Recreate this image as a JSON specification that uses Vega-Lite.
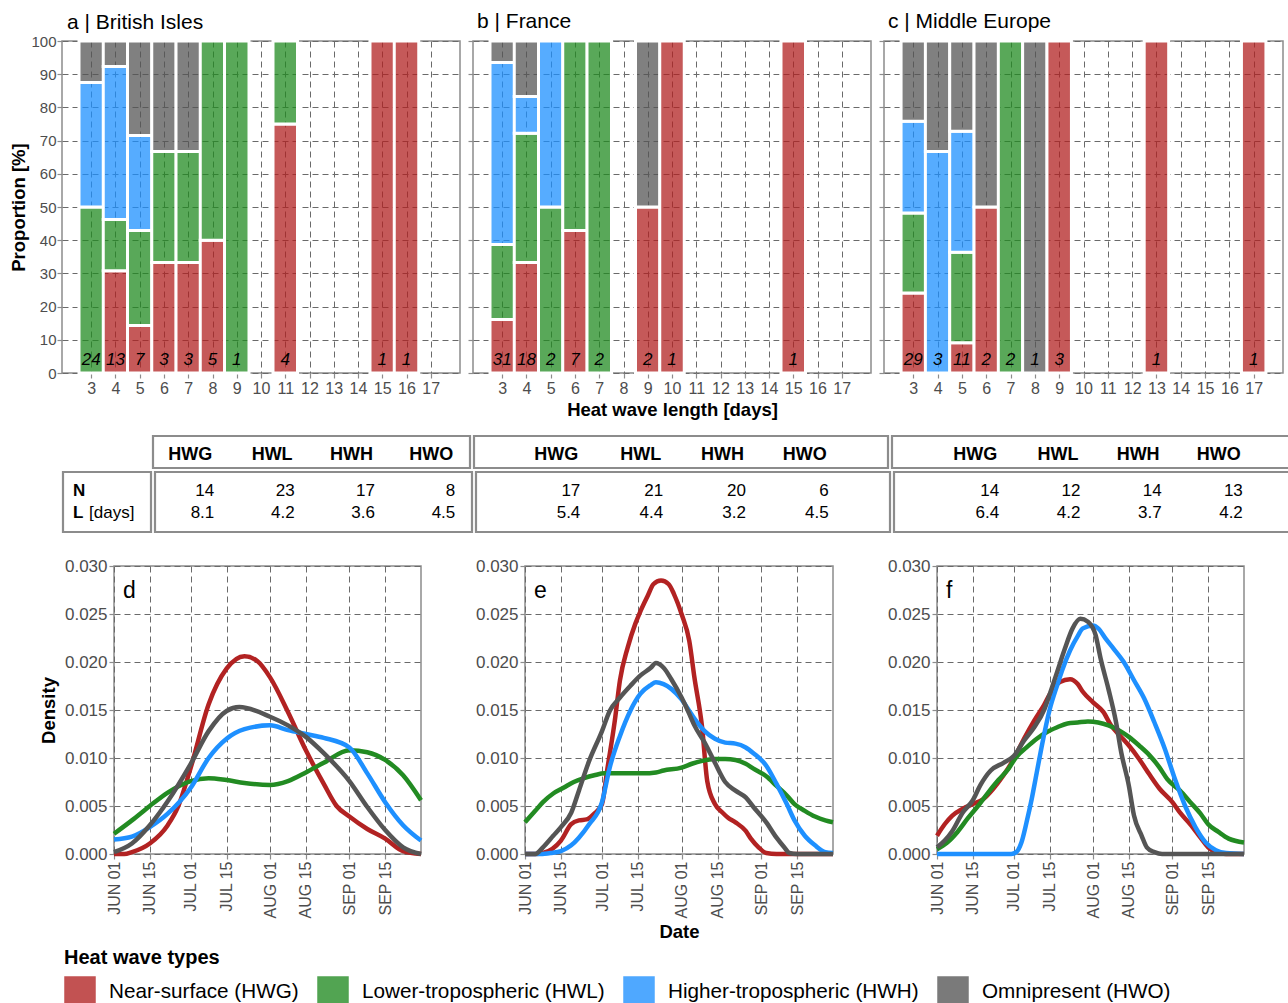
{
"$schema": "https://vega.github.io/schema/vega-lite/v6.json",
"padding": {"left": 8, "top": 9, "right": 0, "bottom": 0},
"background": "white",
"config": {
  "font": "Liberation Sans",
  "view": {"stroke": "#8c8c8c", "strokeWidth": 1.5},
  "axis": {"gridDash": [6, 4], "gridColor": "#6a6a6a", "gridWidth": 1, "domain": false, "tickColor": "#8c8c8c", "tickSize": 5, "tickWidth": 1.2, "labelColor": "#4d4d4d", "titleColor": "black", "titleFontWeight": "bold", "titleFontSize": 18.5, "labelPadding": 2, "labelOverlap": false, "tickCount": 40},
  "title": {"fontWeight": "normal", "color": "black"},
  "text": {"color": "black"},
  "legend": {"labelLimit": 500}
},
"datasets": {
  "bars": [
    {"r":"a","len":3,"type":"HWL","pct":50,"k":2},{"r":"a","len":3,"type":"HWH","pct":37.5,"k":3},{"r":"a","len":3,"type":"HWO","pct":12.5,"k":4},
    {"r":"a","len":4,"type":"HWG","pct":30.8,"k":1},{"r":"a","len":4,"type":"HWL","pct":15.4,"k":2},{"r":"a","len":4,"type":"HWH","pct":46.1,"k":3},{"r":"a","len":4,"type":"HWO","pct":7.7,"k":4},
    {"r":"a","len":5,"type":"HWG","pct":14.3,"k":1},{"r":"a","len":5,"type":"HWL","pct":28.6,"k":2},{"r":"a","len":5,"type":"HWH","pct":28.6,"k":3},{"r":"a","len":5,"type":"HWO","pct":28.5,"k":4},
    {"r":"a","len":6,"type":"HWG","pct":33.3,"k":1},{"r":"a","len":6,"type":"HWL","pct":33.4,"k":2},{"r":"a","len":6,"type":"HWO","pct":33.3,"k":4},
    {"r":"a","len":7,"type":"HWG","pct":33.3,"k":1},{"r":"a","len":7,"type":"HWL","pct":33.4,"k":2},{"r":"a","len":7,"type":"HWO","pct":33.3,"k":4},
    {"r":"a","len":8,"type":"HWG","pct":40,"k":1},{"r":"a","len":8,"type":"HWL","pct":60,"k":2},
    {"r":"a","len":9,"type":"HWL","pct":100,"k":2},
    {"r":"a","len":11,"type":"HWG","pct":75,"k":1},{"r":"a","len":11,"type":"HWL","pct":25,"k":2},
    {"r":"a","len":15,"type":"HWG","pct":100,"k":1},
    {"r":"a","len":16,"type":"HWG","pct":100,"k":1},
    {"r":"b","len":3,"type":"HWG","pct":16.1,"k":1},{"r":"b","len":3,"type":"HWL","pct":22.6,"k":2},{"r":"b","len":3,"type":"HWH","pct":54.8,"k":3},{"r":"b","len":3,"type":"HWO","pct":6.5,"k":4},
    {"r":"b","len":4,"type":"HWG","pct":33.3,"k":1},{"r":"b","len":4,"type":"HWL","pct":38.9,"k":2},{"r":"b","len":4,"type":"HWH","pct":11.1,"k":3},{"r":"b","len":4,"type":"HWO","pct":16.7,"k":4},
    {"r":"b","len":5,"type":"HWL","pct":50,"k":2},{"r":"b","len":5,"type":"HWH","pct":50,"k":3},
    {"r":"b","len":6,"type":"HWG","pct":42.9,"k":1},{"r":"b","len":6,"type":"HWL","pct":57.1,"k":2},
    {"r":"b","len":7,"type":"HWL","pct":100,"k":2},
    {"r":"b","len":9,"type":"HWG","pct":50,"k":1},{"r":"b","len":9,"type":"HWO","pct":50,"k":4},
    {"r":"b","len":10,"type":"HWG","pct":100,"k":1},
    {"r":"b","len":15,"type":"HWG","pct":100,"k":1},
    {"r":"c","len":3,"type":"HWG","pct":24.1,"k":1},{"r":"c","len":3,"type":"HWL","pct":24.1,"k":2},{"r":"c","len":3,"type":"HWH","pct":27.6,"k":3},{"r":"c","len":3,"type":"HWO","pct":24.2,"k":4},
    {"r":"c","len":4,"type":"HWH","pct":66.7,"k":3},{"r":"c","len":4,"type":"HWO","pct":33.3,"k":4},
    {"r":"c","len":5,"type":"HWG","pct":9.1,"k":1},{"r":"c","len":5,"type":"HWL","pct":27.3,"k":2},{"r":"c","len":5,"type":"HWH","pct":36.4,"k":3},{"r":"c","len":5,"type":"HWO","pct":27.2,"k":4},
    {"r":"c","len":6,"type":"HWG","pct":50,"k":1},{"r":"c","len":6,"type":"HWO","pct":50,"k":4},
    {"r":"c","len":7,"type":"HWL","pct":100,"k":2},
    {"r":"c","len":8,"type":"HWO","pct":100,"k":4},
    {"r":"c","len":9,"type":"HWG","pct":100,"k":1},
    {"r":"c","len":13,"type":"HWG","pct":100,"k":1},
    {"r":"c","len":17,"type":"HWG","pct":100,"k":1}
  ],
  "counts": [
    {"r":"a","len":3,"n":24},{"r":"a","len":4,"n":13},{"r":"a","len":5,"n":7},{"r":"a","len":6,"n":3},{"r":"a","len":7,"n":3},{"r":"a","len":8,"n":5},{"r":"a","len":9,"n":1},{"r":"a","len":11,"n":4},{"r":"a","len":15,"n":1},{"r":"a","len":16,"n":1},
    {"r":"b","len":3,"n":31},{"r":"b","len":4,"n":18},{"r":"b","len":5,"n":2},{"r":"b","len":6,"n":7},{"r":"b","len":7,"n":2},{"r":"b","len":9,"n":2},{"r":"b","len":10,"n":1},{"r":"b","len":15,"n":1},
    {"r":"c","len":3,"n":29},{"r":"c","len":4,"n":3},{"r":"c","len":5,"n":11},{"r":"c","len":6,"n":2},{"r":"c","len":7,"n":2},{"r":"c","len":8,"n":1},{"r":"c","len":9,"n":3},{"r":"c","len":13,"n":1},{"r":"c","len":17,"n":1}
  ],
  "table": [
    {"r":"a","type":"HWG","stat":"N","v":"14"},{"r":"a","type":"HWL","stat":"N","v":"23"},{"r":"a","type":"HWH","stat":"N","v":"17"},{"r":"a","type":"HWO","stat":"N","v":"8"},
    {"r":"a","type":"HWG","stat":"L","v":"8.1"},{"r":"a","type":"HWL","stat":"L","v":"4.2"},{"r":"a","type":"HWH","stat":"L","v":"3.6"},{"r":"a","type":"HWO","stat":"L","v":"4.5"},
    {"r":"b","type":"HWG","stat":"N","v":"17"},{"r":"b","type":"HWL","stat":"N","v":"21"},{"r":"b","type":"HWH","stat":"N","v":"20"},{"r":"b","type":"HWO","stat":"N","v":"6"},
    {"r":"b","type":"HWG","stat":"L","v":"5.4"},{"r":"b","type":"HWL","stat":"L","v":"4.4"},{"r":"b","type":"HWH","stat":"L","v":"3.2"},{"r":"b","type":"HWO","stat":"L","v":"4.5"},
    {"r":"c","type":"HWG","stat":"N","v":"14"},{"r":"c","type":"HWL","stat":"N","v":"12"},{"r":"c","type":"HWH","stat":"N","v":"14"},{"r":"c","type":"HWO","stat":"N","v":"13"},
    {"r":"c","type":"HWG","stat":"L","v":"6.4"},{"r":"c","type":"HWL","stat":"L","v":"4.2"},{"r":"c","type":"HWH","stat":"L","v":"3.7"},{"r":"c","type":"HWO","stat":"L","v":"4.2"}
  ],
  "rowlabels": [{"stat":"N","lab":"N","unit":""},{"stat":"L","lab":"L","unit":"[days]"}],
  "dens": [
    {"r":"a","t":"HWG","date":"2001-06-01","d":0},{"r":"a","t":"HWG","date":"2001-06-05","d":0},{"r":"a","t":"HWG","date":"2001-06-08","d":0.0002},{"r":"a","t":"HWG","date":"2001-06-15","d":0.0011},{"r":"a","t":"HWG","date":"2001-06-22","d":0.003},{"r":"a","t":"HWG","date":"2001-06-26","d":0.0049},{"r":"a","t":"HWG","date":"2001-07-01","d":0.009},{"r":"a","t":"HWG","date":"2001-07-08","d":0.0156},{"r":"a","t":"HWG","date":"2001-07-15","d":0.0193},{"r":"a","t":"HWG","date":"2001-07-22","d":0.0206},{"r":"a","t":"HWG","date":"2001-07-27","d":0.0201},{"r":"a","t":"HWG","date":"2001-08-01","d":0.0184},{"r":"a","t":"HWG","date":"2001-08-08","d":0.0148},{"r":"a","t":"HWG","date":"2001-08-15","d":0.0108},{"r":"a","t":"HWG","date":"2001-08-22","d":0.0073},{"r":"a","t":"HWG","date":"2001-08-27","d":0.005},{"r":"a","t":"HWG","date":"2001-09-01","d":0.0039},{"r":"a","t":"HWG","date":"2001-09-08","d":0.0026},{"r":"a","t":"HWG","date":"2001-09-15","d":0.0016},{"r":"a","t":"HWG","date":"2001-09-22","d":0.0003},{"r":"a","t":"HWG","date":"2001-09-29","d":0},
    {"r":"a","t":"HWL","date":"2001-06-01","d":0.0021},{"r":"a","t":"HWL","date":"2001-06-08","d":0.0035},{"r":"a","t":"HWL","date":"2001-06-15","d":0.005},{"r":"a","t":"HWL","date":"2001-06-22","d":0.0064},{"r":"a","t":"HWL","date":"2001-07-01","d":0.0076},{"r":"a","t":"HWL","date":"2001-07-08","d":0.0079},{"r":"a","t":"HWL","date":"2001-07-15","d":0.0077},{"r":"a","t":"HWL","date":"2001-07-22","d":0.0074},{"r":"a","t":"HWL","date":"2001-08-01","d":0.0072},{"r":"a","t":"HWL","date":"2001-08-08","d":0.0076},{"r":"a","t":"HWL","date":"2001-08-15","d":0.0085},{"r":"a","t":"HWL","date":"2001-08-22","d":0.0095},{"r":"a","t":"HWL","date":"2001-09-01","d":0.0108},{"r":"a","t":"HWL","date":"2001-09-08","d":0.0106},{"r":"a","t":"HWL","date":"2001-09-15","d":0.0098},{"r":"a","t":"HWL","date":"2001-09-22","d":0.0082},{"r":"a","t":"HWL","date":"2001-09-29","d":0.0056},
    {"r":"a","t":"HWH","date":"2001-06-01","d":0.0015},{"r":"a","t":"HWH","date":"2001-06-08","d":0.0018},{"r":"a","t":"HWH","date":"2001-06-15","d":0.0028},{"r":"a","t":"HWH","date":"2001-06-22","d":0.0042},{"r":"a","t":"HWH","date":"2001-07-01","d":0.0069},{"r":"a","t":"HWH","date":"2001-07-08","d":0.01},{"r":"a","t":"HWH","date":"2001-07-15","d":0.012},{"r":"a","t":"HWH","date":"2001-07-22","d":0.013},{"r":"a","t":"HWH","date":"2001-08-01","d":0.0134},{"r":"a","t":"HWH","date":"2001-08-08","d":0.0129},{"r":"a","t":"HWH","date":"2001-08-15","d":0.0125},{"r":"a","t":"HWH","date":"2001-08-22","d":0.0121},{"r":"a","t":"HWH","date":"2001-09-01","d":0.0111},{"r":"a","t":"HWH","date":"2001-09-08","d":0.0084},{"r":"a","t":"HWH","date":"2001-09-15","d":0.0054},{"r":"a","t":"HWH","date":"2001-09-22","d":0.003},{"r":"a","t":"HWH","date":"2001-09-29","d":0.0014},
    {"r":"a","t":"HWO","date":"2001-06-01","d":0.0002},{"r":"a","t":"HWO","date":"2001-06-08","d":0.0011},{"r":"a","t":"HWO","date":"2001-06-15","d":0.003},{"r":"a","t":"HWO","date":"2001-06-22","d":0.0055},{"r":"a","t":"HWO","date":"2001-07-01","d":0.0094},{"r":"a","t":"HWO","date":"2001-07-08","d":0.0128},{"r":"a","t":"HWO","date":"2001-07-15","d":0.0149},{"r":"a","t":"HWO","date":"2001-07-20","d":0.0153},{"r":"a","t":"HWO","date":"2001-08-01","d":0.0143},{"r":"a","t":"HWO","date":"2001-08-08","d":0.0134},{"r":"a","t":"HWO","date":"2001-08-15","d":0.0122},{"r":"a","t":"HWO","date":"2001-08-22","d":0.0105},{"r":"a","t":"HWO","date":"2001-09-01","d":0.0076},{"r":"a","t":"HWO","date":"2001-09-08","d":0.0049},{"r":"a","t":"HWO","date":"2001-09-15","d":0.0025},{"r":"a","t":"HWO","date":"2001-09-22","d":0.0007},{"r":"a","t":"HWO","date":"2001-09-29","d":0},
    {"r":"b","t":"HWG","date":"2001-06-01","d":0},{"r":"b","t":"HWG","date":"2001-06-05","d":0},{"r":"b","t":"HWG","date":"2001-06-08","d":0.0001},{"r":"b","t":"HWG","date":"2001-06-15","d":0.0014},{"r":"b","t":"HWG","date":"2001-06-19","d":0.0031},{"r":"b","t":"HWG","date":"2001-06-22","d":0.0035},{"r":"b","t":"HWG","date":"2001-06-25","d":0.0036},{"r":"b","t":"HWG","date":"2001-06-28","d":0.0042},{"r":"b","t":"HWG","date":"2001-07-01","d":0.0052},{"r":"b","t":"HWG","date":"2001-07-03","d":0.0087},{"r":"b","t":"HWG","date":"2001-07-06","d":0.0139},{"r":"b","t":"HWG","date":"2001-07-08","d":0.0181},{"r":"b","t":"HWG","date":"2001-07-11","d":0.0215},{"r":"b","t":"HWG","date":"2001-07-14","d":0.024},{"r":"b","t":"HWG","date":"2001-07-16","d":0.0253},{"r":"b","t":"HWG","date":"2001-07-19","d":0.027},{"r":"b","t":"HWG","date":"2001-07-21","d":0.0281},{"r":"b","t":"HWG","date":"2001-07-24","d":0.0285},{"r":"b","t":"HWG","date":"2001-07-27","d":0.0281},{"r":"b","t":"HWG","date":"2001-07-29","d":0.0271},{"r":"b","t":"HWG","date":"2001-08-01","d":0.025},{"r":"b","t":"HWG","date":"2001-08-04","d":0.0222},{"r":"b","t":"HWG","date":"2001-08-06","d":0.0184},{"r":"b","t":"HWG","date":"2001-08-09","d":0.0132},{"r":"b","t":"HWG","date":"2001-08-11","d":0.0076},{"r":"b","t":"HWG","date":"2001-08-14","d":0.0052},{"r":"b","t":"HWG","date":"2001-08-17","d":0.0043},{"r":"b","t":"HWG","date":"2001-08-19","d":0.0038},{"r":"b","t":"HWG","date":"2001-08-22","d":0.0033},{"r":"b","t":"HWG","date":"2001-08-26","d":0.0024},{"r":"b","t":"HWG","date":"2001-08-28","d":0.0016},{"r":"b","t":"HWG","date":"2001-08-31","d":0.0007},{"r":"b","t":"HWG","date":"2001-09-03","d":0.0001},{"r":"b","t":"HWG","date":"2001-09-07","d":0},{"r":"b","t":"HWG","date":"2001-09-29","d":0},
    {"r":"b","t":"HWL","date":"2001-06-01","d":0.0033},{"r":"b","t":"HWL","date":"2001-06-05","d":0.0045},{"r":"b","t":"HWL","date":"2001-06-08","d":0.0054},{"r":"b","t":"HWL","date":"2001-06-12","d":0.0063},{"r":"b","t":"HWL","date":"2001-06-16","d":0.0069},{"r":"b","t":"HWL","date":"2001-06-20","d":0.0075},{"r":"b","t":"HWL","date":"2001-06-24","d":0.0079},{"r":"b","t":"HWL","date":"2001-06-28","d":0.0082},{"r":"b","t":"HWL","date":"2001-07-02","d":0.0084},{"r":"b","t":"HWL","date":"2001-07-07","d":0.0084},{"r":"b","t":"HWL","date":"2001-07-12","d":0.0084},{"r":"b","t":"HWL","date":"2001-07-17","d":0.0084},{"r":"b","t":"HWL","date":"2001-07-22","d":0.0085},{"r":"b","t":"HWL","date":"2001-07-25","d":0.0087},{"r":"b","t":"HWL","date":"2001-08-01","d":0.009},{"r":"b","t":"HWL","date":"2001-08-05","d":0.0094},{"r":"b","t":"HWL","date":"2001-08-09","d":0.0097},{"r":"b","t":"HWL","date":"2001-08-14","d":0.0099},{"r":"b","t":"HWL","date":"2001-08-18","d":0.0099},{"r":"b","t":"HWL","date":"2001-08-22","d":0.0098},{"r":"b","t":"HWL","date":"2001-08-26","d":0.0094},{"r":"b","t":"HWL","date":"2001-08-29","d":0.0089},{"r":"b","t":"HWL","date":"2001-09-03","d":0.0081},{"r":"b","t":"HWL","date":"2001-09-07","d":0.0071},{"r":"b","t":"HWL","date":"2001-09-11","d":0.0061},{"r":"b","t":"HWL","date":"2001-09-14","d":0.0052},{"r":"b","t":"HWL","date":"2001-09-18","d":0.0045},{"r":"b","t":"HWL","date":"2001-09-22","d":0.0039},{"r":"b","t":"HWL","date":"2001-09-26","d":0.0035},{"r":"b","t":"HWL","date":"2001-09-29","d":0.0033},
    {"r":"b","t":"HWH","date":"2001-06-01","d":0},{"r":"b","t":"HWH","date":"2001-06-07","d":0},{"r":"b","t":"HWH","date":"2001-06-11","d":0.0001},{"r":"b","t":"HWH","date":"2001-06-15","d":0.0003},{"r":"b","t":"HWH","date":"2001-06-19","d":0.0009},{"r":"b","t":"HWH","date":"2001-06-22","d":0.0017},{"r":"b","t":"HWH","date":"2001-06-26","d":0.0031},{"r":"b","t":"HWH","date":"2001-07-01","d":0.0054},{"r":"b","t":"HWH","date":"2001-07-04","d":0.009},{"r":"b","t":"HWH","date":"2001-07-08","d":0.0123},{"r":"b","t":"HWH","date":"2001-07-12","d":0.0149},{"r":"b","t":"HWH","date":"2001-07-16","d":0.0167},{"r":"b","t":"HWH","date":"2001-07-20","d":0.0176},{"r":"b","t":"HWH","date":"2001-07-22","d":0.0179},{"r":"b","t":"HWH","date":"2001-07-25","d":0.0177},{"r":"b","t":"HWH","date":"2001-07-28","d":0.0172},{"r":"b","t":"HWH","date":"2001-08-01","d":0.0161},{"r":"b","t":"HWH","date":"2001-08-04","d":0.0149},{"r":"b","t":"HWH","date":"2001-08-06","d":0.0141},{"r":"b","t":"HWH","date":"2001-08-10","d":0.0128},{"r":"b","t":"HWH","date":"2001-08-14","d":0.012},{"r":"b","t":"HWH","date":"2001-08-18","d":0.0116},{"r":"b","t":"HWH","date":"2001-08-22","d":0.0115},{"r":"b","t":"HWH","date":"2001-08-26","d":0.0111},{"r":"b","t":"HWH","date":"2001-08-29","d":0.0105},{"r":"b","t":"HWH","date":"2001-09-03","d":0.0092},{"r":"b","t":"HWH","date":"2001-09-07","d":0.0073},{"r":"b","t":"HWH","date":"2001-09-11","d":0.0052},{"r":"b","t":"HWH","date":"2001-09-14","d":0.0035},{"r":"b","t":"HWH","date":"2001-09-18","d":0.0019},{"r":"b","t":"HWH","date":"2001-09-22","d":0.0009},{"r":"b","t":"HWH","date":"2001-09-26","d":0.0002},{"r":"b","t":"HWH","date":"2001-09-29","d":0.0001},
    {"r":"b","t":"HWO","date":"2001-06-01","d":0},{"r":"b","t":"HWO","date":"2001-06-05","d":0},{"r":"b","t":"HWO","date":"2001-06-08","d":0.0007},{"r":"b","t":"HWO","date":"2001-06-12","d":0.0019},{"r":"b","t":"HWO","date":"2001-06-15","d":0.0028},{"r":"b","t":"HWO","date":"2001-06-19","d":0.0043},{"r":"b","t":"HWO","date":"2001-06-22","d":0.0066},{"r":"b","t":"HWO","date":"2001-06-26","d":0.0097},{"r":"b","t":"HWO","date":"2001-07-01","d":0.0128},{"r":"b","t":"HWO","date":"2001-07-04","d":0.0149},{"r":"b","t":"HWO","date":"2001-07-08","d":0.0163},{"r":"b","t":"HWO","date":"2001-07-12","d":0.0175},{"r":"b","t":"HWO","date":"2001-07-16","d":0.0186},{"r":"b","t":"HWO","date":"2001-07-20","d":0.0194},{"r":"b","t":"HWO","date":"2001-07-22","d":0.0199},{"r":"b","t":"HWO","date":"2001-07-25","d":0.0194},{"r":"b","t":"HWO","date":"2001-07-28","d":0.0182},{"r":"b","t":"HWO","date":"2001-08-01","d":0.0163},{"r":"b","t":"HWO","date":"2001-08-04","d":0.0146},{"r":"b","t":"HWO","date":"2001-08-06","d":0.0134},{"r":"b","t":"HWO","date":"2001-08-10","d":0.0116},{"r":"b","t":"HWO","date":"2001-08-14","d":0.0095},{"r":"b","t":"HWO","date":"2001-08-18","d":0.0075},{"r":"b","t":"HWO","date":"2001-08-22","d":0.0066},{"r":"b","t":"HWO","date":"2001-08-26","d":0.0059},{"r":"b","t":"HWO","date":"2001-08-29","d":0.0049},{"r":"b","t":"HWO","date":"2001-09-03","d":0.0033},{"r":"b","t":"HWO","date":"2001-09-07","d":0.0017},{"r":"b","t":"HWO","date":"2001-09-10","d":0.0007},{"r":"b","t":"HWO","date":"2001-09-12","d":0.0001},{"r":"b","t":"HWO","date":"2001-09-15","d":0},{"r":"b","t":"HWO","date":"2001-09-29","d":0},
    {"r":"c","t":"HWG","date":"2001-06-01","d":0.0019},{"r":"c","t":"HWG","date":"2001-06-04","d":0.0031},{"r":"c","t":"HWG","date":"2001-06-07","d":0.004},{"r":"c","t":"HWG","date":"2001-06-11","d":0.0047},{"r":"c","t":"HWG","date":"2001-06-15","d":0.0052},{"r":"c","t":"HWG","date":"2001-06-19","d":0.0057},{"r":"c","t":"HWG","date":"2001-06-23","d":0.0068},{"r":"c","t":"HWG","date":"2001-06-27","d":0.0082},{"r":"c","t":"HWG","date":"2001-07-01","d":0.0099},{"r":"c","t":"HWG","date":"2001-07-05","d":0.012},{"r":"c","t":"HWG","date":"2001-07-09","d":0.0139},{"r":"c","t":"HWG","date":"2001-07-13","d":0.0156},{"r":"c","t":"HWG","date":"2001-07-15","d":0.0166},{"r":"c","t":"HWG","date":"2001-07-19","d":0.0179},{"r":"c","t":"HWG","date":"2001-07-23","d":0.0182},{"r":"c","t":"HWG","date":"2001-07-26","d":0.0177},{"r":"c","t":"HWG","date":"2001-07-28","d":0.0169},{"r":"c","t":"HWG","date":"2001-08-01","d":0.0158},{"r":"c","t":"HWG","date":"2001-08-05","d":0.0148},{"r":"c","t":"HWG","date":"2001-08-08","d":0.0134},{"r":"c","t":"HWG","date":"2001-08-12","d":0.0122},{"r":"c","t":"HWG","date":"2001-08-15","d":0.0113},{"r":"c","t":"HWG","date":"2001-08-19","d":0.0099},{"r":"c","t":"HWG","date":"2001-08-23","d":0.0083},{"r":"c","t":"HWG","date":"2001-08-27","d":0.0068},{"r":"c","t":"HWG","date":"2001-09-01","d":0.0054},{"r":"c","t":"HWG","date":"2001-09-04","d":0.0043},{"r":"c","t":"HWG","date":"2001-09-08","d":0.0031},{"r":"c","t":"HWG","date":"2001-09-12","d":0.0017},{"r":"c","t":"HWG","date":"2001-09-15","d":0.0007},{"r":"c","t":"HWG","date":"2001-09-18","d":0.0002},{"r":"c","t":"HWG","date":"2001-09-22","d":0},{"r":"c","t":"HWG","date":"2001-09-29","d":0},
    {"r":"c","t":"HWL","date":"2001-06-01","d":0.0005},{"r":"c","t":"HWL","date":"2001-06-05","d":0.0012},{"r":"c","t":"HWL","date":"2001-06-09","d":0.0023},{"r":"c","t":"HWL","date":"2001-06-13","d":0.0037},{"r":"c","t":"HWL","date":"2001-06-17","d":0.005},{"r":"c","t":"HWL","date":"2001-06-21","d":0.0064},{"r":"c","t":"HWL","date":"2001-06-25","d":0.0077},{"r":"c","t":"HWL","date":"2001-06-29","d":0.0089},{"r":"c","t":"HWL","date":"2001-07-02","d":0.0101},{"r":"c","t":"HWL","date":"2001-07-06","d":0.0111},{"r":"c","t":"HWL","date":"2001-07-10","d":0.012},{"r":"c","t":"HWL","date":"2001-07-14","d":0.0127},{"r":"c","t":"HWL","date":"2001-07-18","d":0.0132},{"r":"c","t":"HWL","date":"2001-07-22","d":0.0136},{"r":"c","t":"HWL","date":"2001-07-26","d":0.0137},{"r":"c","t":"HWL","date":"2001-07-30","d":0.0138},{"r":"c","t":"HWL","date":"2001-08-03","d":0.0137},{"r":"c","t":"HWL","date":"2001-08-07","d":0.0134},{"r":"c","t":"HWL","date":"2001-08-11","d":0.0129},{"r":"c","t":"HWL","date":"2001-08-15","d":0.0122},{"r":"c","t":"HWL","date":"2001-08-19","d":0.0113},{"r":"c","t":"HWL","date":"2001-08-23","d":0.0103},{"r":"c","t":"HWL","date":"2001-08-27","d":0.009},{"r":"c","t":"HWL","date":"2001-08-30","d":0.0078},{"r":"c","t":"HWL","date":"2001-09-04","d":0.0066},{"r":"c","t":"HWL","date":"2001-09-08","d":0.0054},{"r":"c","t":"HWL","date":"2001-09-12","d":0.0042},{"r":"c","t":"HWL","date":"2001-09-15","d":0.0031},{"r":"c","t":"HWL","date":"2001-09-19","d":0.0023},{"r":"c","t":"HWL","date":"2001-09-23","d":0.0016},{"r":"c","t":"HWL","date":"2001-09-29","d":0.0012},
    {"r":"c","t":"HWH","date":"2001-06-01","d":0},{"r":"c","t":"HWH","date":"2001-06-30","d":0},{"r":"c","t":"HWH","date":"2001-07-02","d":0.0002},{"r":"c","t":"HWH","date":"2001-07-04","d":0.0012},{"r":"c","t":"HWH","date":"2001-07-06","d":0.0033},{"r":"c","t":"HWH","date":"2001-07-08","d":0.0057},{"r":"c","t":"HWH","date":"2001-07-10","d":0.0085},{"r":"c","t":"HWH","date":"2001-07-12","d":0.0113},{"r":"c","t":"HWH","date":"2001-07-15","d":0.015},{"r":"c","t":"HWH","date":"2001-07-18","d":0.0176},{"r":"c","t":"HWH","date":"2001-07-20","d":0.0192},{"r":"c","t":"HWH","date":"2001-07-23","d":0.0212},{"r":"c","t":"HWH","date":"2001-07-26","d":0.0227},{"r":"c","t":"HWH","date":"2001-07-28","d":0.0235},{"r":"c","t":"HWH","date":"2001-08-01","d":0.0238},{"r":"c","t":"HWH","date":"2001-08-03","d":0.0235},{"r":"c","t":"HWH","date":"2001-08-06","d":0.0224},{"r":"c","t":"HWH","date":"2001-08-09","d":0.0214},{"r":"c","t":"HWH","date":"2001-08-13","d":0.02},{"r":"c","t":"HWH","date":"2001-08-17","d":0.0181},{"r":"c","t":"HWH","date":"2001-08-21","d":0.0162},{"r":"c","t":"HWH","date":"2001-08-25","d":0.0137},{"r":"c","t":"HWH","date":"2001-08-29","d":0.011},{"r":"c","t":"HWH","date":"2001-09-02","d":0.0078},{"r":"c","t":"HWH","date":"2001-09-06","d":0.005},{"r":"c","t":"HWH","date":"2001-09-10","d":0.0028},{"r":"c","t":"HWH","date":"2001-09-14","d":0.0012},{"r":"c","t":"HWH","date":"2001-09-18","d":0.0004},{"r":"c","t":"HWH","date":"2001-09-22","d":0.0001},{"r":"c","t":"HWH","date":"2001-09-29","d":0},
    {"r":"c","t":"HWO","date":"2001-06-01","d":0.0007},{"r":"c","t":"HWO","date":"2001-06-04","d":0.0014},{"r":"c","t":"HWO","date":"2001-06-07","d":0.0024},{"r":"c","t":"HWO","date":"2001-06-11","d":0.0043},{"r":"c","t":"HWO","date":"2001-06-15","d":0.0056},{"r":"c","t":"HWO","date":"2001-06-18","d":0.0072},{"r":"c","t":"HWO","date":"2001-06-22","d":0.0087},{"r":"c","t":"HWO","date":"2001-06-27","d":0.0095},{"r":"c","t":"HWO","date":"2001-07-01","d":0.0102},{"r":"c","t":"HWO","date":"2001-07-05","d":0.0118},{"r":"c","t":"HWO","date":"2001-07-09","d":0.0132},{"r":"c","t":"HWO","date":"2001-07-13","d":0.0151},{"r":"c","t":"HWO","date":"2001-07-15","d":0.0166},{"r":"c","t":"HWO","date":"2001-07-18","d":0.019},{"r":"c","t":"HWO","date":"2001-07-21","d":0.0214},{"r":"c","t":"HWO","date":"2001-07-24","d":0.0235},{"r":"c","t":"HWO","date":"2001-07-27","d":0.0245},{"r":"c","t":"HWO","date":"2001-07-30","d":0.0242},{"r":"c","t":"HWO","date":"2001-08-02","d":0.0228},{"r":"c","t":"HWO","date":"2001-08-04","d":0.0203},{"r":"c","t":"HWO","date":"2001-08-07","d":0.0172},{"r":"c","t":"HWO","date":"2001-08-10","d":0.0137},{"r":"c","t":"HWO","date":"2001-08-12","d":0.0106},{"r":"c","t":"HWO","date":"2001-08-15","d":0.0071},{"r":"c","t":"HWO","date":"2001-08-17","d":0.004},{"r":"c","t":"HWO","date":"2001-08-20","d":0.0019},{"r":"c","t":"HWO","date":"2001-08-22","d":0.0007},{"r":"c","t":"HWO","date":"2001-08-25","d":0.0002},{"r":"c","t":"HWO","date":"2001-08-28","d":0},{"r":"c","t":"HWO","date":"2001-09-29","d":0}
  ]
},
"spacing": 14,
"vconcat": [
  {
    "spacing": 0,
    "hconcat": [
      {"width": 1, "height": 20, "view": {"stroke": null}, "data": {"values": []}, "mark": "text", "encoding": {}},
      {
        "spacing": 5,
        "hconcat": [
          {
            "width": 398, "height": 332,
            "title": {"text": "a | British Isles", "anchor": "start", "frame": "group", "fontSize": 21, "offset": 1, "dx": 5},
            "layer": [
              {"data": {"name": "bars"}, "transform": [{"filter": "datum.r == 'a'"}],
               "mark": {"type": "bar", "width": 24.5, "fillOpacity": 0.75, "stroke": "white", "strokeWidth": 3},
               "encoding": {
                 "x": {"field": "len", "type": "quantitative", "scale": {"domain": [2, 18], "nice": false, "zero": false}, "axis": {"values": [3,4,5,6,7,8,9,10,11,12,13,14,15,16,17], "format": "d", "title": null, "labelFontSize": 16, "grid": true}},
                 "y": {"field": "pct", "type": "quantitative", "stack": "zero", "scale": {"domain": [0, 100], "nice": false}, "axis": {"values": [0,10,20,30,40,50,60,70,80,90,100], "title": "Proportion [%]", "labelFontSize": 15, "labelPadding": 1, "titlePadding": 2, "grid": true}},
                 "color": {"field": "type", "type": "nominal", "scale": {"domain": ["HWG","HWL","HWH","HWO"], "range": ["#B22222","#228B22","#1E90FF","#555555"]},
                   "legend": {"title": "Heat wave types", "orient": "none", "legendX": 56, "legendY": 907, "direction": "horizontal", "symbolType": "square", "symbolSize": 900, "symbolStrokeColor": "black", "symbolStrokeWidth": 1.5, "symbolOpacity": 0.78, "labelFontSize": 20.7, "labelColor": "black", "labelOffset": 13, "labelLimit": 500, "titleFontSize": 20, "titleFontWeight": "bold", "titleColor": "black", "columnPadding": 16, "titlePadding": 8,
                     "labelExpr": "datum.label == 'HWG' ? 'Near-surface (HWG)' : datum.label == 'HWL' ? 'Lower-tropospheric (HWL)' : datum.label == 'HWH' ? 'Higher-tropospheric (HWH)' : 'Omnipresent (HWO)'"}},
                 "order": {"field": "k", "type": "quantitative"}
               }},
              {"data": {"name": "counts"}, "transform": [{"filter": "datum.r == 'a'"}],
               "mark": {"type": "text", "fontStyle": "italic", "fontSize": 17, "baseline": "middle"},
               "encoding": {"x": {"field": "len", "type": "quantitative"}, "y": {"datum": 4}, "text": {"field": "n"}}}
            ]
          },
          {
            "width": 398, "height": 332,
            "title": {"text": "b | France", "anchor": "start", "frame": "group", "fontSize": 21, "offset": 8, "dx": 4},
            "layer": [
              {"data": {"name": "bars"}, "transform": [{"filter": "datum.r == 'b'"}],
               "mark": {"type": "bar", "width": 24.5, "fillOpacity": 0.75, "stroke": "white", "strokeWidth": 3},
               "encoding": {
                 "x": {"field": "len", "type": "quantitative", "scale": {"domain": [2, 18], "nice": false, "zero": false}, "axis": {"values": [3,4,5,6,7,8,9,10,11,12,13,14,15,16,17], "format": "d", "title": "Heat wave length [days]", "titlePadding": 4, "labelFontSize": 16, "grid": true}},
                 "y": {"field": "pct", "type": "quantitative", "stack": "zero", "scale": {"domain": [0, 100], "nice": false}, "axis": {"values": [0,10,20,30,40,50,60,70,80,90,100], "title": null, "labels": false, "grid": true}},
                 "color": {"field": "type", "type": "nominal", "scale": {"domain": ["HWG","HWL","HWH","HWO"], "range": ["#B22222","#228B22","#1E90FF","#555555"]},
                   "legend": {"title": "Heat wave types", "orient": "none", "legendX": 56, "legendY": 907, "direction": "horizontal", "symbolType": "square", "symbolSize": 900, "symbolStrokeColor": "black", "symbolStrokeWidth": 1.5, "symbolOpacity": 0.78, "labelFontSize": 20.7, "labelColor": "black", "labelOffset": 13, "labelLimit": 500, "titleFontSize": 20, "titleFontWeight": "bold", "titleColor": "black", "columnPadding": 16, "titlePadding": 8,
                     "labelExpr": "datum.label == 'HWG' ? 'Near-surface (HWG)' : datum.label == 'HWL' ? 'Lower-tropospheric (HWL)' : datum.label == 'HWH' ? 'Higher-tropospheric (HWH)' : 'Omnipresent (HWO)'"}},
                 "order": {"field": "k", "type": "quantitative"}
               }},
              {"data": {"name": "counts"}, "transform": [{"filter": "datum.r == 'b'"}],
               "mark": {"type": "text", "fontStyle": "italic", "fontSize": 17, "baseline": "middle"},
               "encoding": {"x": {"field": "len", "type": "quantitative"}, "y": {"datum": 4}, "text": {"field": "n"}}}
            ]
          },
          {
            "width": 399, "height": 332,
            "title": {"text": "c | Middle Europe", "anchor": "start", "frame": "group", "fontSize": 21, "offset": 8, "dx": 4},
            "layer": [
              {"data": {"name": "bars"}, "transform": [{"filter": "datum.r == 'c'"}],
               "mark": {"type": "bar", "width": 24.5, "fillOpacity": 0.75, "stroke": "white", "strokeWidth": 3},
               "encoding": {
                 "x": {"field": "len", "type": "quantitative", "scale": {"domain": [2, 18], "nice": false, "zero": false}, "axis": {"values": [3,4,5,6,7,8,9,10,11,12,13,14,15,16,17], "format": "d", "title": null, "labelFontSize": 16, "grid": true}},
                 "y": {"field": "pct", "type": "quantitative", "stack": "zero", "scale": {"domain": [0, 100], "nice": false}, "axis": {"values": [0,10,20,30,40,50,60,70,80,90,100], "title": null, "labels": false, "grid": true}},
                 "color": {"field": "type", "type": "nominal", "scale": {"domain": ["HWG","HWL","HWH","HWO"], "range": ["#B22222","#228B22","#1E90FF","#555555"]},
                   "legend": {"title": "Heat wave types", "orient": "none", "legendX": 56, "legendY": 907, "direction": "horizontal", "symbolType": "square", "symbolSize": 900, "symbolStrokeColor": "black", "symbolStrokeWidth": 1.5, "symbolOpacity": 0.78, "labelFontSize": 20.7, "labelColor": "black", "labelOffset": 13, "labelLimit": 500, "titleFontSize": 20, "titleFontWeight": "bold", "titleColor": "black", "columnPadding": 16, "titlePadding": 8,
                     "labelExpr": "datum.label == 'HWG' ? 'Near-surface (HWG)' : datum.label == 'HWL' ? 'Lower-tropospheric (HWL)' : datum.label == 'HWH' ? 'Higher-tropospheric (HWH)' : 'Omnipresent (HWO)'"}},
                 "order": {"field": "k", "type": "quantitative"}
               }},
              {"data": {"name": "counts"}, "transform": [{"filter": "datum.r == 'c'"}],
               "mark": {"type": "text", "fontStyle": "italic", "fontSize": 17, "baseline": "middle"},
               "encoding": {"x": {"field": "len", "type": "quantitative"}, "y": {"datum": 4}, "text": {"field": "n"}}}
            ]
          }
        ]
      }
    ]
  },
  {
    "spacing": 22,
    "vconcat": [
      {
        "spacing": 0,
        "hconcat": [
          {"width": 53, "height": 20, "view": {"stroke": null}, "data": {"values": []}, "mark": "text", "encoding": {}},
          {
            "spacing": 0,
            "vconcat": [
              {
                "spacing": 0,
                "hconcat": [
                  {"width": 88, "height": 32, "view": {"stroke": null}, "data": {"values": []}, "mark": "text", "encoding": {}},
                  {"width": 317, "height": 32, "view": {"stroke": "#8c8c8c", "strokeWidth": 2.2}, "data": {"name": "table"}, "transform": [{"filter": "datum.r == 'a' && datum.stat == 'N'"}],
                   "mark": {"type": "text", "fontSize": 18, "fontWeight": "bold", "align": "right", "baseline": "middle", "dy": 3},
                   "encoding": {"x": {"field": "type", "type": "nominal", "scale": {"type": "point", "domain": ["HWG","HWL","HWH","HWO"], "padding": 0.473, "align": 0.78}, "axis": null}, "text": {"field": "type"}}},
                  {"width": 414, "height": 32, "view": {"stroke": "#8c8c8c", "strokeWidth": 2.2}, "data": {"name": "table"}, "transform": [{"filter": "datum.r == 'b' && datum.stat == 'N'"}],
                   "mark": {"type": "text", "fontSize": 18, "fontWeight": "bold", "align": "right", "baseline": "middle", "dy": 3},
                   "encoding": {"x": {"field": "type", "type": "nominal", "scale": {"type": "point", "domain": ["HWG","HWL","HWH","HWO"], "padding": 1.077, "align": 0.63}, "axis": null}, "text": {"field": "type"}}},
                  {"width": 406, "height": 32, "view": {"stroke": "#8c8c8c", "strokeWidth": 2.2}, "data": {"name": "table"}, "transform": [{"filter": "datum.r == 'c' && datum.stat == 'N'"}],
                   "mark": {"type": "text", "fontSize": 18, "fontWeight": "bold", "align": "right", "baseline": "middle", "dy": 3},
                   "encoding": {"x": {"field": "type", "type": "nominal", "scale": {"type": "point", "domain": ["HWG","HWL","HWH","HWO"], "padding": 1.027, "align": 0.648}, "axis": null}, "text": {"field": "type"}}}
                ]
              },
              {
                "spacing": 0,
                "hconcat": [
                  {"width": 88, "height": 60, "view": {"stroke": "#8c8c8c", "strokeWidth": 2.2}, "data": {"name": "rowlabels"},
                   "encoding": {"x": {"datum": "lab", "type": "nominal", "scale": {"type": "point", "domain": ["lab"], "padding": 0.5, "align": 0.114}, "axis": null},
                                "y": {"field": "stat", "type": "nominal", "scale": {"type": "point", "domain": ["N","L"], "padding": 0.864, "align": 0.553}, "axis": null}},
                   "layer": [
                     {"mark": {"type": "text", "fontSize": 17, "fontWeight": "bold", "align": "left", "baseline": "middle", "dy": -2}, "encoding": {"text": {"field": "lab"}}},
                     {"mark": {"type": "text", "fontSize": 17, "align": "left", "baseline": "middle", "dx": 16, "dy": -2}, "encoding": {"text": {"field": "unit"}}}
                   ]},
                  {"width": 317, "height": 60, "view": {"stroke": "#8c8c8c", "strokeWidth": 2.2}, "data": {"name": "table"}, "transform": [{"filter": "datum.r == 'a'"}],
                   "mark": {"type": "text", "fontSize": 17, "align": "right", "baseline": "middle", "dy": -2},
                   "encoding": {"x": {"field": "type", "type": "nominal", "scale": {"type": "point", "domain": ["HWG","HWL","HWH","HWO"], "padding": 0.473, "align": 0.78}, "axis": null},
                                "y": {"field": "stat", "type": "nominal", "scale": {"type": "point", "domain": ["N","L"], "padding": 0.864, "align": 0.553}, "axis": null},
                                "text": {"field": "v"}}},
                  {"width": 414, "height": 60, "view": {"stroke": "#8c8c8c", "strokeWidth": 2.2}, "data": {"name": "table"}, "transform": [{"filter": "datum.r == 'b'"}],
                   "mark": {"type": "text", "fontSize": 17, "align": "right", "baseline": "middle", "dy": -2},
                   "encoding": {"x": {"field": "type", "type": "nominal", "scale": {"type": "point", "domain": ["HWG","HWL","HWH","HWO"], "padding": 1.077, "align": 0.63}, "axis": null},
                                "y": {"field": "stat", "type": "nominal", "scale": {"type": "point", "domain": ["N","L"], "padding": 0.864, "align": 0.553}, "axis": null},
                                "text": {"field": "v"}}},
                  {"width": 406, "height": 60, "view": {"stroke": "#8c8c8c", "strokeWidth": 2.2}, "data": {"name": "table"}, "transform": [{"filter": "datum.r == 'c'"}],
                   "mark": {"type": "text", "fontSize": 17, "align": "right", "baseline": "middle", "dy": -2},
                   "encoding": {"x": {"field": "type", "type": "nominal", "scale": {"type": "point", "domain": ["HWG","HWL","HWH","HWO"], "padding": 1.027, "align": 0.648}, "axis": null},
                                "y": {"field": "stat", "type": "nominal", "scale": {"type": "point", "domain": ["N","L"], "padding": 0.864, "align": 0.553}, "axis": null},
                                "text": {"field": "v"}}}
                ]
              }
            ]
          }
        ]
      },
      {
        "spacing": 0,
        "hconcat": [
          {"width": 30, "height": 20, "view": {"stroke": null}, "data": {"values": []}, "mark": "text", "encoding": {}},
          {
            "spacing": 43,
            "hconcat": [
              {
                "width": 307, "height": 288,
                "title": {"text": "d", "anchor": "start", "frame": "group", "fontSize": 23, "offset": -46, "dx": 9},
                "data": {"name": "dens"}, "transform": [{"filter": "datum.r == 'a'"}],
                "mark": {"type": "line", "strokeWidth": 4.5, "interpolate": "monotone"},
                "encoding": {
                  "x": {"field": "date", "type": "temporal", "scale": {"type": "utc", "domain": [{"year": 2001, "month": 6, "date": 1, "utc": true}, {"year": 2001, "month": 9, "date": 29, "utc": true}]},
                        "axis": {"values": [{"year": 2001, "month": 6, "date": 1, "utc": true}, {"year": 2001, "month": 6, "date": 15, "utc": true}, {"year": 2001, "month": 7, "date": 1, "utc": true}, {"year": 2001, "month": 7, "date": 15, "utc": true}, {"year": 2001, "month": 8, "date": 1, "utc": true}, {"year": 2001, "month": 8, "date": 15, "utc": true}, {"year": 2001, "month": 9, "date": 1, "utc": true}, {"year": 2001, "month": 9, "date": 15, "utc": true}],
                                 "labelExpr": "upper(utcFormat(datum.value, '%b %d'))", "labelAngle": 270, "labelAlign": "right", "labelBaseline": "middle", "labelFontSize": 16, "title": null, "grid": true}},
                  "y": {"field": "d", "type": "quantitative", "scale": {"domain": [0, 0.03], "nice": false}, "axis": {"values": [0, 0.005, 0.01, 0.015, 0.02, 0.025, 0.03], "format": ".3f", "labelFontSize": 17, "title": "Density", "titlePadding": 6, "grid": true}},
                  "stroke": {"field": "t", "type": "nominal", "scale": {"domain": ["HWG","HWL","HWH","HWO"], "range": ["#B22222","#228B22","#1E90FF","#555555"]}, "legend": null}
                }
              },
              {
                "width": 308, "height": 288,
                "title": {"text": "e", "anchor": "start", "frame": "group", "fontSize": 23, "offset": -46, "dx": 9},
                "data": {"name": "dens"}, "transform": [{"filter": "datum.r == 'b'"}],
                "mark": {"type": "line", "strokeWidth": 4.5, "interpolate": "monotone"},
                "encoding": {
                  "x": {"field": "date", "type": "temporal", "scale": {"type": "utc", "domain": [{"year": 2001, "month": 6, "date": 1, "utc": true}, {"year": 2001, "month": 9, "date": 29, "utc": true}]},
                        "axis": {"values": [{"year": 2001, "month": 6, "date": 1, "utc": true}, {"year": 2001, "month": 6, "date": 15, "utc": true}, {"year": 2001, "month": 7, "date": 1, "utc": true}, {"year": 2001, "month": 7, "date": 15, "utc": true}, {"year": 2001, "month": 8, "date": 1, "utc": true}, {"year": 2001, "month": 8, "date": 15, "utc": true}, {"year": 2001, "month": 9, "date": 1, "utc": true}, {"year": 2001, "month": 9, "date": 15, "utc": true}],
                                 "labelExpr": "upper(utcFormat(datum.value, '%b %d'))", "labelAngle": 270, "labelAlign": "right", "labelBaseline": "middle", "labelFontSize": 16, "title": "Date", "titlePadding": 5, "grid": true}},
                  "y": {"field": "d", "type": "quantitative", "scale": {"domain": [0, 0.03], "nice": false}, "axis": {"values": [0, 0.005, 0.01, 0.015, 0.02, 0.025, 0.03], "format": ".3f", "labelFontSize": 17, "title": null, "grid": true}},
                  "stroke": {"field": "t", "type": "nominal", "scale": {"domain": ["HWG","HWL","HWH","HWO"], "range": ["#B22222","#228B22","#1E90FF","#555555"]}, "legend": null}
                }
              },
              {
                "width": 307, "height": 288,
                "title": {"text": "f", "anchor": "start", "frame": "group", "fontSize": 23, "offset": -46, "dx": 9},
                "data": {"name": "dens"}, "transform": [{"filter": "datum.r == 'c'"}],
                "mark": {"type": "line", "strokeWidth": 4.5, "interpolate": "monotone"},
                "encoding": {
                  "x": {"field": "date", "type": "temporal", "scale": {"type": "utc", "domain": [{"year": 2001, "month": 6, "date": 1, "utc": true}, {"year": 2001, "month": 9, "date": 29, "utc": true}]},
                        "axis": {"values": [{"year": 2001, "month": 6, "date": 1, "utc": true}, {"year": 2001, "month": 6, "date": 15, "utc": true}, {"year": 2001, "month": 7, "date": 1, "utc": true}, {"year": 2001, "month": 7, "date": 15, "utc": true}, {"year": 2001, "month": 8, "date": 1, "utc": true}, {"year": 2001, "month": 8, "date": 15, "utc": true}, {"year": 2001, "month": 9, "date": 1, "utc": true}, {"year": 2001, "month": 9, "date": 15, "utc": true}],
                                 "labelExpr": "upper(utcFormat(datum.value, '%b %d'))", "labelAngle": 270, "labelAlign": "right", "labelBaseline": "middle", "labelFontSize": 16, "title": null, "grid": true}},
                  "y": {"field": "d", "type": "quantitative", "scale": {"domain": [0, 0.03], "nice": false}, "axis": {"values": [0, 0.005, 0.01, 0.015, 0.02, 0.025, 0.03], "format": ".3f", "labelFontSize": 17, "title": null, "grid": true}},
                  "stroke": {"field": "t", "type": "nominal", "scale": {"domain": ["HWG","HWL","HWH","HWO"], "range": ["#B22222","#228B22","#1E90FF","#555555"]}, "legend": null}
                }
              }
            ]
          }
        ]
      }
    ]
  }
]
}
